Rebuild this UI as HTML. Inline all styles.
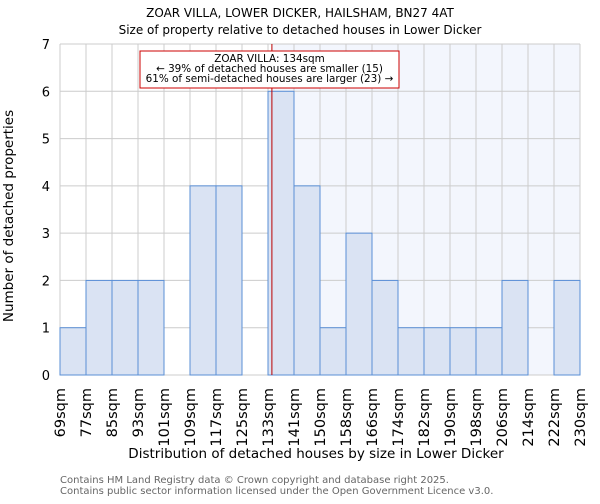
<!DOCTYPE html>
<html><head><meta charset="utf-8"><style>
body{margin:0;background:#fff;font-family:"DejaVu Sans","Liberation Sans",sans-serif}
</style></head><body>
<svg id="chart" width="600" height="500" xmlns="http://www.w3.org/2000/svg" font-family="DejaVu Sans, Liberation Sans, sans-serif">
<text x="300" y="17" text-anchor="middle" font-size="12">ZOAR VILLA, LOWER DICKER, HAILSHAM, BN27 4AT</text>
<text x="300" y="34" text-anchor="middle" font-size="12">Size of property relative to detached houses in Lower Dicker</text>
<g id="plot"></g>
<text x="316" y="458" text-anchor="middle" font-size="13.5">Distribution of detached houses by size in Lower Dicker</text>
<text transform="translate(13,216) rotate(-90)" text-anchor="middle" font-size="13.5">Number of detached properties</text>
<text x="60" y="483" font-size="10" fill="#666">Contains HM Land Registry data © Crown copyright and database right 2025.</text>
<text x="60" y="494" font-size="10" fill="#666">Contains public sector information licensed under the Open Government Licence v3.0.</text>
</svg>
<script>
const categories=["69sqm","77sqm","85sqm","93sqm","101sqm","109sqm","117sqm","125sqm","133sqm","141sqm","150sqm","158sqm","166sqm","174sqm","182sqm","190sqm","198sqm","206sqm","214sqm","222sqm","230sqm"];
const counts=[1,2,2,2,0,4,4,0,6,4,1,3,2,1,1,1,1,2,0,2];
const yTicks=[0,1,2,3,4,5,6,7];
const markerIndex=8.15;
const NS="http://www.w3.org/2000/svg";
const g=document.getElementById("plot");
const X0=60,X1=580,Y0=375,Y1=44,bw=(X1-X0)/counts.length;
const x=i=>X0+i*bw;
const y=v=>Y0-(v/7)*(Y0-Y1);
function mk(t,a,p){const e=document.createElementNS(NS,t);for(const k in a)e.setAttribute(k,a[k]);(p||g).appendChild(e);return e;}
let e=mk("rect",{x:x(markerIndex),y:Y1,width:X1-x(markerIndex),height:Y0-Y1,fill:"#f3f6fd"});


for(let i=0;i<=counts.length;i++){e=mk("line",{x1:x(i),x2:x(i),y1:Y1,y2:Y0,stroke:"#ccc","stroke-width":1});

}
yTicks.forEach(t=>{e=mk("line",{x1:X0,x2:X1,y1:y(t),y2:y(t),stroke:"#ccc","stroke-width":1});


e=mk("text",{x:X0-10,y:y(t)+5,"text-anchor":"end","font-size":13});e.textContent=t;

});
counts.forEach((v,i)=>{if(!v)return;e=mk("rect",{x:x(i),y:y(v),width:bw,height:Y0-y(v),fill:"#dae3f3",stroke:"#5a8fd6","stroke-width":1});

});
categories.forEach((c,i)=>{e=mk("text",{transform:`translate(${x(i)+5},388) rotate(-90)`,"text-anchor":"end","font-size":14.5});e.textContent=c;

});
e=mk("line",{x1:x(markerIndex),x2:x(markerIndex),y1:Y1,y2:Y0,stroke:"#b00","stroke-width":1});


e=mk("rect",{x:140,y:51,width:259,height:37,fill:"#fff",stroke:"#c00","stroke-width":1});


["ZOAR VILLA: 134sqm","← 39% of detached houses are smaller (15)","61% of semi-detached houses are larger (23) →"].forEach((s,k)=>{e=mk("text",{x:269.5,y:62+k*10,"text-anchor":"middle","font-size":10.4});e.textContent=s;

});
</script>
</body></html>
